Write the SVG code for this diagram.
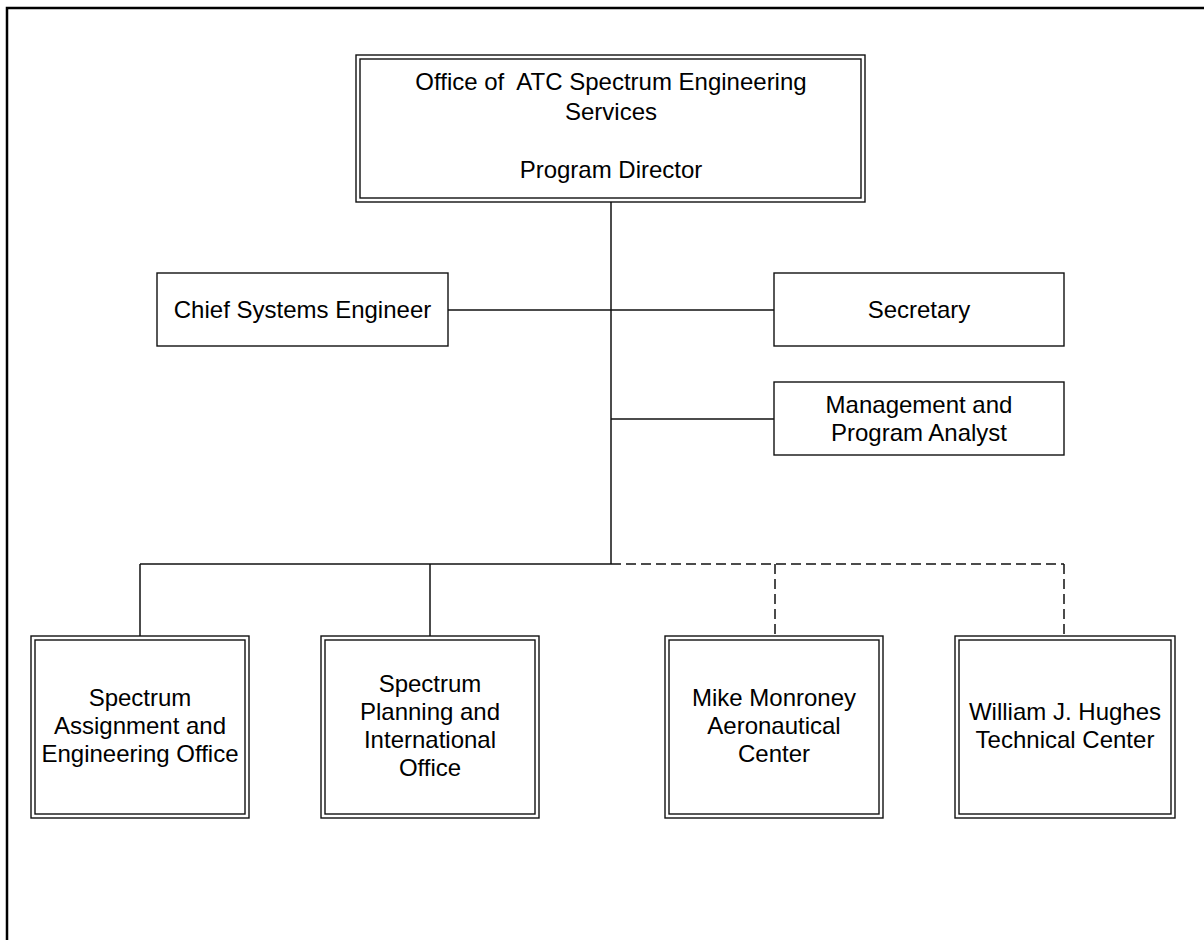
<svg xmlns="http://www.w3.org/2000/svg" width="1204" height="940" viewBox="0 0 1204 940">
<style>
.box{fill:#fff;stroke:#111;stroke-width:1.4}
.in{fill:none;stroke:#111;stroke-width:1.4}
.ln{fill:none;stroke:#111;stroke-width:1.5}
.dash{fill:none;stroke:#111;stroke-width:1.5;stroke-dasharray:10 5}
text{font-family:"Liberation Sans",Arial,sans-serif;font-size:24px;fill:#000;text-anchor:middle}
</style>
<rect width="1204" height="940" fill="#fff"/>
<path d="M7,940 V8 H1204" fill="none" stroke="#000" stroke-width="2.5"/>
<g id="connectors">
<line class="ln" x1="611" y1="202" x2="611" y2="564"/>
<line class="ln" x1="448" y1="310" x2="774" y2="310"/>
<line class="ln" x1="611" y1="419" x2="774" y2="419"/>
<line class="ln" x1="140" y1="564" x2="611" y2="564"/>
<line class="ln" x1="140" y1="564" x2="140" y2="636"/>
<line class="ln" x1="430" y1="564" x2="430" y2="636"/>
<line class="dash" x1="611" y1="564" x2="1064" y2="564"/>
<line class="dash" x1="775" y1="564" x2="775" y2="636"/>
<line class="dash" x1="1064" y1="564" x2="1064" y2="636"/>
</g>
<g id="director">
<rect class="box" x="356" y="55" width="509" height="147"/>
<rect class="in" x="360" y="59" width="501" height="139"/>
<text x="611" y="90" xml:space="preserve">Office of  ATC Spectrum Engineering</text>
<text x="611" y="120">Services</text>
<text x="611" y="178">Program Director</text>
</g>
<g id="chief">
<rect class="box" x="157" y="273" width="291" height="73"/>
<text x="302.5" y="318">Chief Systems Engineer</text>
</g>
<g id="secretary">
<rect class="box" x="774" y="273" width="290" height="73"/>
<text x="919" y="318">Secretary</text>
</g>
<g id="analyst">
<rect class="box" x="774" y="382" width="290" height="73"/>
<text x="919" y="413">Management and</text>
<text x="919" y="441">Program Analyst</text>
</g>
<g id="assignment">
<rect class="box" x="31" y="636" width="218" height="182"/>
<rect class="in" x="35" y="640" width="210" height="174"/>
<text x="140" y="706">Spectrum</text>
<text x="140" y="734">Assignment and</text>
<text x="140" y="762">Engineering Office</text>
</g>
<g id="planning">
<rect class="box" x="321" y="636" width="218" height="182"/>
<rect class="in" x="325" y="640" width="210" height="174"/>
<text x="430" y="692">Spectrum</text>
<text x="430" y="720">Planning and</text>
<text x="430" y="748">International</text>
<text x="430" y="776">Office</text>
</g>
<g id="monroney">
<rect class="box" x="665" y="636" width="218" height="182"/>
<rect class="in" x="669" y="640" width="210" height="174"/>
<text x="774" y="706">Mike Monroney</text>
<text x="774" y="734">Aeronautical</text>
<text x="774" y="762">Center</text>
</g>
<g id="hughes">
<rect class="box" x="955" y="636" width="220" height="182"/>
<rect class="in" x="959" y="640" width="212" height="174"/>
<text x="1065" y="720">William J. Hughes</text>
<text x="1065" y="748">Technical Center</text>
</g>
</svg>
